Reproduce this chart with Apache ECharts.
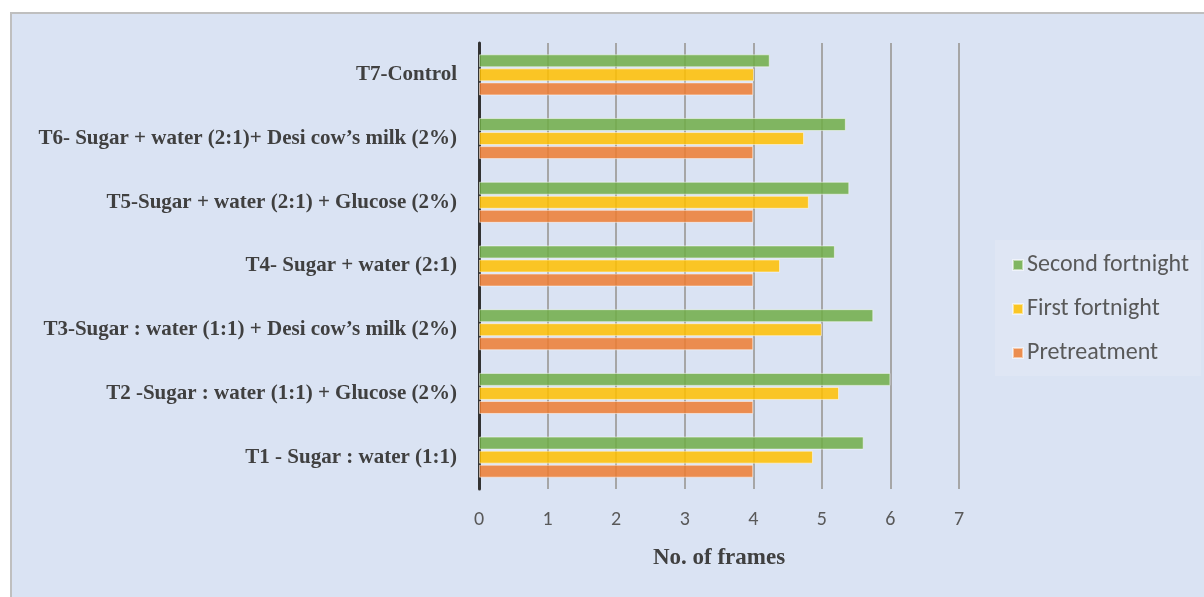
<!DOCTYPE html>
<html>
<head>
<meta charset="utf-8">
<script src="https://cdn.jsdelivr.net/npm/echarts@6/dist/echarts.min.js"></script>
<style>
html,body{margin:0;padding:0;background:#fff;}
#c{width:1204px;height:597px;}
</style>
</head>
<body>
<div id="c"></div>
<script>
const categories = [
  "T1 - Sugar : water (1:1)",
  "T2 -Sugar : water (1:1) + Glucose (2%)",
  "T3-Sugar : water (1:1) + Desi cow\u2019s milk (2%)",
  "T4- Sugar + water (2:1)",
  "T5-Sugar + water (2:1) + Glucose (2%)",
  "T6- Sugar + water (2:1)+ Desi cow\u2019s milk (2%)",
  "T7-Control"
];
const pretreatment = [4.0, 4.0, 4.0, 4.0, 4.0, 4.0, 4.0];
const firstFortnight = [4.87, 5.25, 5.0, 4.39, 4.81, 4.74, 4.01];
const secondFortnight = [5.61, 6.0, 5.75, 5.19, 5.40, 5.35, 4.24];
const xTicks = [0, 1, 2, 3, 4, 5, 6, 7];

const chart = echarts.init(document.getElementById('c'), null, {renderer: 'canvas'});
const barStyle = (color) => ({color: color, opacity: 0.85, borderColor: 'rgba(255,255,255,0.6)', borderWidth: 1});
chart.setOption({
  animation: false,
  backgroundColor: '#ffffff',
  graphic: [{
    type: 'rect', z: -10, silent: true,
    shape: {x: 11, y: 13, width: 1210, height: 600},
    style: {fill: '#dae3f3', stroke: '#bfbfbf', lineWidth: 2}
  }, {
    type: 'rect', z: -5, silent: true,
    shape: {x: 995, y: 240, width: 206, height: 136},
    style: {fill: '#dfe6f4'}
  }],
  grid: {left: 479, right: 1204 - 959, top: 43, bottom: 597 - 489, containLabel: false},
  legend: {
    data: ['Second fortnight', 'First fortnight', 'Pretreatment'],
    orient: 'vertical',
    left: 1007, top: 248,
    itemWidth: 10, itemHeight: 10, itemGap: 20,
    icon: 'rect',
    textStyle: {fontFamily: 'Carlito, Calibri, "Open Sans", sans-serif', fontSize: 24, lineHeight: 24, color: '#595959', padding: [0, 0, 0, -1]}
  },
  xAxis: {
    type: 'value', min: 0, max: 7, interval: 1,
    name: 'No. of frames', nameLocation: 'middle', nameGap: 58,
    nameTextStyle: {fontFamily: '"Liberation Serif", "Times New Roman", serif', fontWeight: 'bold', fontSize: 23, color: '#404040'},
    axisLine: {show: false},
    axisTick: {show: false},
    axisLabel: {
      margin: 21, fontSize: 20, color: '#595959',
      fontFamily: 'Carlito, Calibri, "Open Sans", sans-serif',
      formatter: (v) => xTicks.includes(v) ? String(v) : ''
    },
    splitLine: {show: true, lineStyle: {color: '#a6a6a6', width: 2}}
  },
  yAxis: {
    type: 'category', data: categories,
    axisLine: {show: true, lineStyle: {color: '#333333', width: 3}},
    axisTick: {show: false},
    axisLabel: {
      margin: 22, fontSize: 21, color: '#404040', fontWeight: 'bold',
      fontFamily: '"Liberation Serif", "Times New Roman", serif'
    }
  },
  series: [
    {name: 'Second fortnight', type: 'bar', data: secondFortnight, itemStyle: barStyle('#70ad47'), barWidth: 13, barGap: '8%', barCategoryGap: '37%'},
    {name: 'First fortnight', type: 'bar', data: firstFortnight, itemStyle: barStyle('#ffc000'), barWidth: 13, barGap: '8%'},
    {name: 'Pretreatment', type: 'bar', data: pretreatment, itemStyle: barStyle('#ed7d31'), barWidth: 13, barGap: '8%'}
  ]
});
</script>
</body>
</html>
